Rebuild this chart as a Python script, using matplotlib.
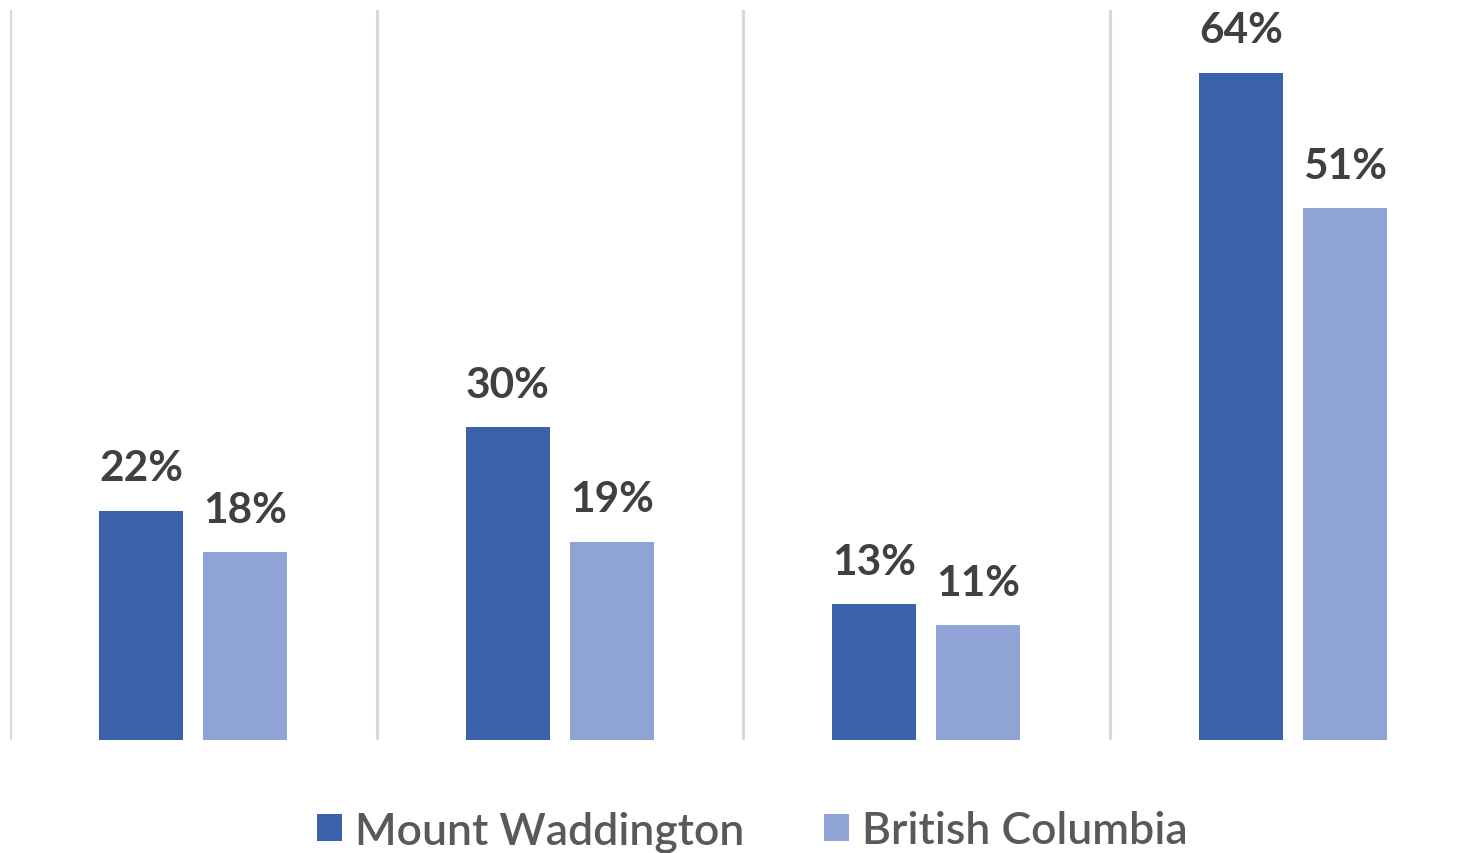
import numpy as np
import matplotlib.pyplot as plt

categories = ['Group 1', 'Group 2', 'Group 3', 'Group 4']
mount_waddington = [22, 30, 13, 64]
british_columbia = [18, 19, 11, 51]
labels_mw = ['22%', '30%', '13%', '64%']
labels_bc = ['18%', '19%', '11%', '51%']

dark_blue = '#3A62AB'
light_blue = '#8FA3D4'
text_color = '#404040'
legend_color = '#595959'

fig = plt.figure(figsize=(14.67, 8.54), dpi=100)
# axes extend a little past the right edge, as in the original
ax = fig.add_axes([10 / 1467, 113 / 854, 1466 / 1467, 730 / 854])

x = np.arange(len(categories))
width = 0.229
offset = 0.142

bars1 = ax.bar(x - offset, mount_waddington, width, color=dark_blue, label='Mount Waddington')
bars2 = ax.bar(x + offset, british_columbia, width, color=light_blue, label='British Columbia')

for bars, labels in [(bars1, labels_mw), (bars2, labels_bc)]:
    for b, lab in zip(bars, labels):
        ax.annotate(lab, (b.get_x() + b.get_width() / 2, b.get_height()),
                    xytext=(0, 17), textcoords='offset points',
                    ha='center', va='bottom', fontsize=30.5, fontweight='bold',
                    color=text_color, family='Lato')

for xv in np.arange(-0.5, len(categories), 1.0):
    ax.axvline(xv, color='#D9D9D9', linewidth=2.2, zorder=0)

ax.set_xlim(-0.5, len(categories) - 0.5)
ax.set_ylim(0, 70)
ax.set_xticks([])
ax.set_yticks([])
for s in ax.spines.values():
    s.set_visible(False)

leg = fig.legend(handles=[bars1, bars2], loc='center', bbox_to_anchor=(0.513, 0.026),
                 ncol=2, frameon=False,
                 prop={'family': 'Lato', 'size': 32, 'weight': 'semibold'},
                 handlelength=0.55, handleheight=0.55, handletextpad=0.3, columnspacing=1.8)
for t in leg.get_texts():
    t.set_color(legend_color)

fig.savefig('out.png', dpi=100)
